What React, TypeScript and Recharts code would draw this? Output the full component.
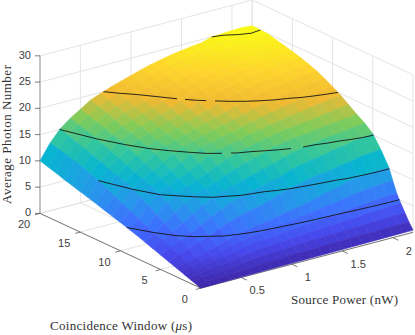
import { ScatterChart, Scatter, XAxis, YAxis } from "recharts";

const WIDTH = 415;
const HEIGHT = 335;

const windows = [0, 0.5, 1, 1.5, 2, 2.5, 3, 4, 5, 6, 7, 8, 9, 10, 11, 12, 13, 14, 15, 16, 17, 18, 19, 20];
const powers = [0.1, 0.2, 0.3, 0.4, 0.5, 0.6, 0.7, 0.8, 0.9, 1.0, 1.1, 1.2, 1.3, 1.4, 1.5, 1.6, 1.7, 1.8, 1.9, 2.0, 2.1, 2.2];

// one row per source power, one column per coincidence window
const photons = [
  [0, 0.28, 0.55, 0.83, 1.1, 1.38, 1.65, 2.2, 2.75, 3.3, 3.85, 4.4, 4.9, 5.4, 5.85, 6.3, 6.8, 7.25, 7.7, 8.15, 8.6, 9.1, 9.55, 10],
  [0.02, 0.42, 0.8, 1.18, 1.55, 1.93, 2.3, 3, 3.65, 4.3, 4.9, 5.55, 6.25, 6.95, 7.7, 8.45, 9.25, 10, 10.6, 11.15, 11.65, 12.1, 12.5, 12.9],
  [0.04, 0.52, 1, 1.45, 1.9, 2.33, 2.75, 3.6, 4.45, 5.35, 6.3, 7.25, 8.2, 9.15, 10.05, 10.7, 11.25, 11.8, 12.35, 12.9, 13.45, 14, 14.55, 15.1],
  [0.06, 0.6, 1.15, 1.7, 2.25, 2.78, 3.3, 4.35, 5.4, 6.65, 7.9, 9.1, 10.2, 10.85, 11.45, 12.05, 12.7, 13.3, 13.95, 14.55, 15.15, 15.65, 16.1, 16.6],
  [0.08, 0.7, 1.35, 1.95, 2.55, 3.18, 3.8, 5, 6.35, 7.75, 9.1, 10.25, 11, 11.75, 12.45, 13.2, 13.95, 14.7, 15.3, 15.8, 16.3, 16.8, 17.3, 17.8],
  [0.1, 0.82, 1.55, 2.28, 3, 3.72, 4.45, 5.9, 7.45, 8.95, 10.25, 11.1, 11.95, 12.8, 13.65, 14.5, 15.2, 15.75, 16.3, 16.85, 17.4, 17.95, 18.5, 19.05],
  [0.12, 0.93, 1.75, 2.55, 3.35, 4.12, 4.9, 6.6, 8.3, 10, 10.95, 11.9, 12.8, 13.75, 14.7, 15.4, 15.95, 16.5, 17.05, 17.6, 18.15, 18.7, 19.25, 19.8],
  [0.14, 1, 1.9, 2.8, 3.7, 4.5, 5.35, 7.3, 9.25, 10.6, 11.65, 12.7, 13.75, 14.8, 15.45, 16, 16.55, 17.1, 17.7, 18.25, 18.8, 19.4, 19.95, 20.5],
  [0.16, 1.05, 2, 2.92, 3.85, 4.78, 5.75, 7.8, 9.9, 11.15, 12.4, 13.6, 14.8, 15.5, 16.05, 16.6, 17.2, 17.75, 18.3, 18.85, 19.45, 20, 20.55, 21.1],
  [0.18, 1.12, 2.1, 3.02, 4, 5, 6, 8.2, 10.3, 11.7, 13.15, 14.4, 15.4, 16, 16.6, 17.2, 17.8, 18.4, 19, 19.6, 20.15, 20.7, 21.2, 21.7],
  [0.2, 1.2, 2.25, 3.2, 4.2, 5.25, 6.4, 8.75, 10.7, 12.3, 13.8, 15, 15.9, 16.6, 17.2, 17.8, 18.45, 19.1, 19.75, 20.35, 20.9, 21.4, 21.85, 22.3],
  [0.22, 1.25, 2.35, 3.35, 4.4, 5.55, 6.85, 9.5, 11.25, 12.85, 14.3, 15.45, 16.2, 16.9, 17.65, 18.35, 19.05, 19.8, 20.4, 21, 21.5, 21.95, 22.4, 22.8],
  [0.24, 1.3, 2.45, 3.5, 4.6, 5.85, 7.2, 10, 11.7, 13.4, 14.85, 15.95, 16.75, 17.45, 18.15, 18.9, 19.7, 20.35, 20.95, 21.5, 22, 22.4, 22.8, 23.2],
  [0.26, 1.35, 2.55, 3.6, 4.7, 6.1, 7.6, 10.45, 12.45, 14.1, 15.4, 16.35, 17.1, 17.9, 18.7, 19.5, 20.3, 20.95, 21.55, 22.05, 22.5, 22.85, 23.25, 23.6],
  [0.28, 1.42, 2.6, 3.7, 4.9, 6.4, 8.1, 10.95, 12.95, 14.6, 15.85, 16.8, 17.55, 18.4, 19.25, 20.05, 20.8, 21.45, 22, 22.45, 22.85, 23.2, 23.55, 23.9],
  [0.3, 1.45, 2.65, 3.8, 5, 6.65, 8.6, 11.25, 13.3, 14.95, 16.1, 17.05, 17.9, 18.8, 19.7, 20.5, 21.2, 21.8, 22.3, 22.75, 23.15, 23.5, 23.85, 24.2],
  [0.32, 1.48, 2.7, 3.92, 5.2, 7, 9, 11.45, 13.6, 15.15, 16.35, 17.3, 18.2, 19.15, 20.1, 20.9, 21.6, 22.15, 22.6, 23, 23.35, 23.7, 24.05, 24.4],
  [0.34, 1.5, 2.75, 4.05, 5.4, 7.35, 9.6, 11.9, 14.05, 15.55, 16.55, 17.5, 18.5, 19.5, 20.4, 21.2, 21.9, 22.45, 22.95, 23.35, 23.75, 24.15, 24.55, 25],
  [0.36, 1.55, 2.85, 4.2, 5.6, 7.65, 9.8, 12.1, 14.35, 15.75, 16.8, 17.8, 18.85, 19.9, 20.75, 21.5, 22.15, 22.7, 23.2, 23.6, 24, 24.35, 24.7, 25.1],
  [0.38, 1.58, 2.9, 4.3, 5.8, 7.85, 10, 12.6, 14.75, 16, 17.05, 18.1, 19.15, 20.2, 21, 21.7, 22.35, 22.9, 23.35, 23.75, 24.1, 24.5, 24.95, 25.2],
  [0.4, 1.6, 2.95, 4.4, 5.9, 8, 10.2, 12.75, 15, 16.3, 17.3, 18.4, 19.45, 20.45, 21.25, 22, 22.6, 23.1, 23.55, 23.95, 24.3, 24.7, 25.05, 25.25],
  [0.42, 1.62, 3, 4.4, 5.9, 8, 10.2, 12.9, 15.2, 16.5, 17.5, 18.6, 19.7, 20.6, 21.45, 22.2, 22.8, 23.3, 23.75, 24.15, 24.5, 24.95, 25, 25.1],
];

const contourLevels = [5, 10, 15, 20, 25];
const contourGaps: Record<number, number[][]> = {
  15: [[222, 231], [291, 303]],
  20: [[177, 185], [206, 215]],
};

const zTicks = [0, 5, 10, 15, 20, 25, 30];
const windowTicks = [0, 5, 10, 15, 20];
const powerTicks = [0.5, 1, 1.5, 2];

const parula = [
  [62, 38, 168], [71, 71, 235], [62, 111, 255], [39, 150, 235], [8, 181, 208],
  [49, 198, 159], [129, 204, 89], [240, 185, 50], [254, 212, 45], [249, 251, 21],
];

const P_MIN = 0.1;
const P_MAX = 2.2;
const W_MAX = 20;
const Z_MAX = 30;
const COLOR_MAX = 25.3;

// view of the 3d box on the page
function project(w: number, p: number, z: number) {
  const u = (p - P_MIN) / (P_MAX - P_MIN);
  return {
    x: 200.8 + 212.2 * u - 8.04 * w,
    y: 288 - 56 * u - 3.75 * w - 5.27 * z,
  };
}

function colorOf(z: number) {
  const t = Math.min(Math.max(z / COLOR_MAX, 0), 1) * (parula.length - 1);
  const i = Math.min(Math.floor(t), parula.length - 2);
  const f = t - i;
  const c = parula[i].map((v, k) => Math.round(v + (parula[i + 1][k] - v) * f));
  return `rgb(${c[0]},${c[1]},${c[2]})`;
}

// far cells first so the nearer ones cover them
const facets: any[] = [];
for (let j = windows.length - 2; j >= 0; j--) {
  for (let i = powers.length - 2; i >= 0; i--) {
    const corners = [
      project(windows[j], powers[i], photons[i][j]),
      project(windows[j + 1], powers[i], photons[i][j + 1]),
      project(windows[j + 1], powers[i + 1], photons[i + 1][j + 1]),
      project(windows[j], powers[i + 1], photons[i + 1][j]),
    ];
    const mean = (photons[i][j] + photons[i][j + 1] + photons[i + 1][j + 1] + photons[i + 1][j]) / 4;
    facets.push({ x: corners[0].x, y: corners[0].y, corners, fill: colorOf(mean) });
  }
}

function contourPoints(level: number) {
  const pts: { x: number; y: number }[] = [];
  powers.forEach((p, i) => {
    const row = photons[i];
    for (let j = 0; j < row.length - 1; j++) {
      if (row[j] <= level && row[j + 1] > level) {
        const f = (level - row[j]) / (row[j + 1] - row[j]);
        pts.push(project(windows[j] + f * (windows[j + 1] - windows[j]), p, level));
        break;
      }
    }
    // where the level leaves through the far edge
    if (i < powers.length - 1) {
      const a = row[row.length - 1];
      const b = photons[i + 1][row.length - 1];
      if (a < level && b >= level) {
        const pe = p + ((level - a) / (b - a)) * (powers[i + 1] - p);
        pts.push(project(W_MAX, pe, level));
      }
    }
  });
  return pts;
}

function splitAtGaps(pts: { x: number; y: number }[], gaps: number[][]) {
  const cuts = gaps.flat();
  const out: { x: number; y: number }[] = [];
  pts.forEach((pt, k) => {
    if (k > 0) {
      const prev = pts[k - 1];
      cuts
        .filter((c) => (prev.x < c && pt.x > c) || (prev.x > c && pt.x < c))
        .sort((a, b) => (prev.x < pt.x ? a - b : b - a))
        .forEach((c) => {
          out.push({ x: c, y: prev.y + ((c - prev.x) / (pt.x - prev.x)) * (pt.y - prev.y) });
        });
    }
    out.push(pt);
  });
  const pieces: { x: number; y: number }[][] = [[]];
  out.forEach((pt, k) => {
    pieces[pieces.length - 1].push(pt);
    if (k < out.length - 1) {
      const mid = (pt.x + out[k + 1].x) / 2;
      const inGap = gaps.some((g) => mid > g[0] && mid < g[1]);
      if (inGap) pieces.push([]);
    }
  });
  return pieces.filter((s) => s.length > 1);
}

const contourLines = contourLevels.flatMap((lv) => splitAtGaps(contourPoints(lv), contourGaps[lv] ?? []));

const gridLines: { x: number; y: number }[][] = [];
[...zTicks].forEach((z) => {
  gridLines.push([project(W_MAX, P_MIN, z), project(W_MAX, P_MAX, z)]);
  gridLines.push([project(W_MAX, P_MAX, z), project(0, P_MAX, z)]);
});
[P_MIN, ...powerTicks, P_MAX].forEach((p) => {
  gridLines.push([project(W_MAX, p, 0), project(W_MAX, p, Z_MAX)]);
  gridLines.push([project(0, p, 0), project(W_MAX, p, 0)]);
});
windowTicks.forEach((w) => {
  gridLines.push([project(w, P_MAX, 0), project(w, P_MAX, Z_MAX)]);
  gridLines.push([project(w, P_MIN, 0), project(w, P_MAX, 0)]);
});

// ticks point outwards from the box
const tickLines: { x: number; y: number }[][] = [];
zTicks.forEach((z) => {
  const a = project(W_MAX, P_MIN, z);
  tickLines.push([a, { x: a.x - 5, y: a.y }]);
});
windowTicks.forEach((w) => {
  tickLines.push([project(w, P_MIN, 0), project(w, P_MIN - 0.05, 0)]);
});
powerTicks.forEach((p) => {
  tickLines.push([project(0, p, 0), project(-0.7, p, 0)]);
});

const SANS = "'Liberation Sans', Arial, sans-serif";
const SERIF = "'Liberation Serif', 'Times New Roman', serif";

const tickLabels = [
  ...zTicks.map((z) => {
    const a = project(W_MAX, P_MIN, z);
    return { x: a.x - 9, y: a.y + 3, text: String(z), anchor: "end" };
  }),
  ...windowTicks.map((w) => {
    const a = project(w, P_MIN, 0);
    return { x: a.x - 16, y: a.y + 15, text: String(w), anchor: "middle" };
  }),
  ...powerTicks.map((p) => {
    const a = project(0, p, 0);
    return { x: a.x + 16, y: a.y + 17, text: String(p), anchor: "middle" };
  }),
];

function PolygonCell(props: any) {
  const { cx, cy, payload } = props;
  const pts = payload.corners
    .map((c: any) => `${cx + c.x - payload.x},${cy + c.y - payload.y}`)
    .join(" ");
  return <polygon points={pts} fill={payload.fill} stroke={payload.fill} strokeWidth={0.6} />;
}

function TickText(props: any) {
  const { cx, cy, payload } = props;
  return (
    <text x={cx} y={cy} textAnchor={payload.anchor} fontFamily={SANS} fontSize={11} fill="#404040">
      {payload.text}
    </text>
  );
}

function NoDot() {
  return null;
}

export default function App() {
  const lineSeries = (lines: { x: number; y: number }[][], stroke: string, width: number, key: string) =>
    lines.map((pts, i) => (
      <Scatter
        key={`${key}${i}`}
        data={pts}
        shape={NoDot}
        line={{ stroke, strokeWidth: width, fill: "none" }}
        lineJointType="linear"
        isAnimationActive={false}
      />
    ));

  return (
    <div style={{ position: "absolute", left: 0, top: 0, width: WIDTH, height: HEIGHT, background: "#fff" }}>
      <ScatterChart width={WIDTH} height={HEIGHT} margin={{ top: 0, right: 0, bottom: 0, left: 0 }}>
        <XAxis type="number" dataKey="x" domain={[0, WIDTH]} hide />
        <YAxis type="number" dataKey="y" domain={[0, HEIGHT]} reversed hide />
        {lineSeries(gridLines, "#e4e4e4", 1, "grid")}
        {lineSeries([[project(W_MAX, P_MIN, 0), project(W_MAX, P_MIN, Z_MAX)]], "#b0b0b0", 1.4, "zaxis")}
        {lineSeries([[project(W_MAX, P_MIN, 0), project(0, P_MIN, 0)]], "#5a5a5a", 0.8, "waxis")}
        {lineSeries([[project(0, P_MIN, 0), project(0, P_MAX, 0)]], "#5a5a5a", 0.8, "paxis")}
        {lineSeries(tickLines, "#5a5a5a", 0.8, "tick")}
        <Scatter data={facets} shape={PolygonCell} isAnimationActive={false} />
        {lineSeries(contourLines, "#151515", 0.9, "contour")}
        <Scatter data={tickLabels} shape={TickText} isAnimationActive={false} />
      </ScatterChart>
      <svg width={WIDTH} height={HEIGHT} style={{ position: "absolute", left: 0, top: 0, pointerEvents: "none" }}>
        <text x={50} y={330} fontFamily={SERIF} fontSize={13} fill="#333" textLength={142}>
          Coincidence Window (<tspan fontStyle="italic">μ</tspan>s)
        </text>
        <text x={291} y={304} fontFamily={SERIF} fontSize={13} fill="#333" textLength={107}>
          Source Power (nW)
        </text>
        <text
          transform="translate(10.5,134.5) rotate(-90)"
          textAnchor="middle"
          fontFamily={SERIF}
          fontSize={13}
          fill="#333"
          textLength={139}
        >
          Average Photon Number
        </text>
      </svg>
    </div>
  );
}
